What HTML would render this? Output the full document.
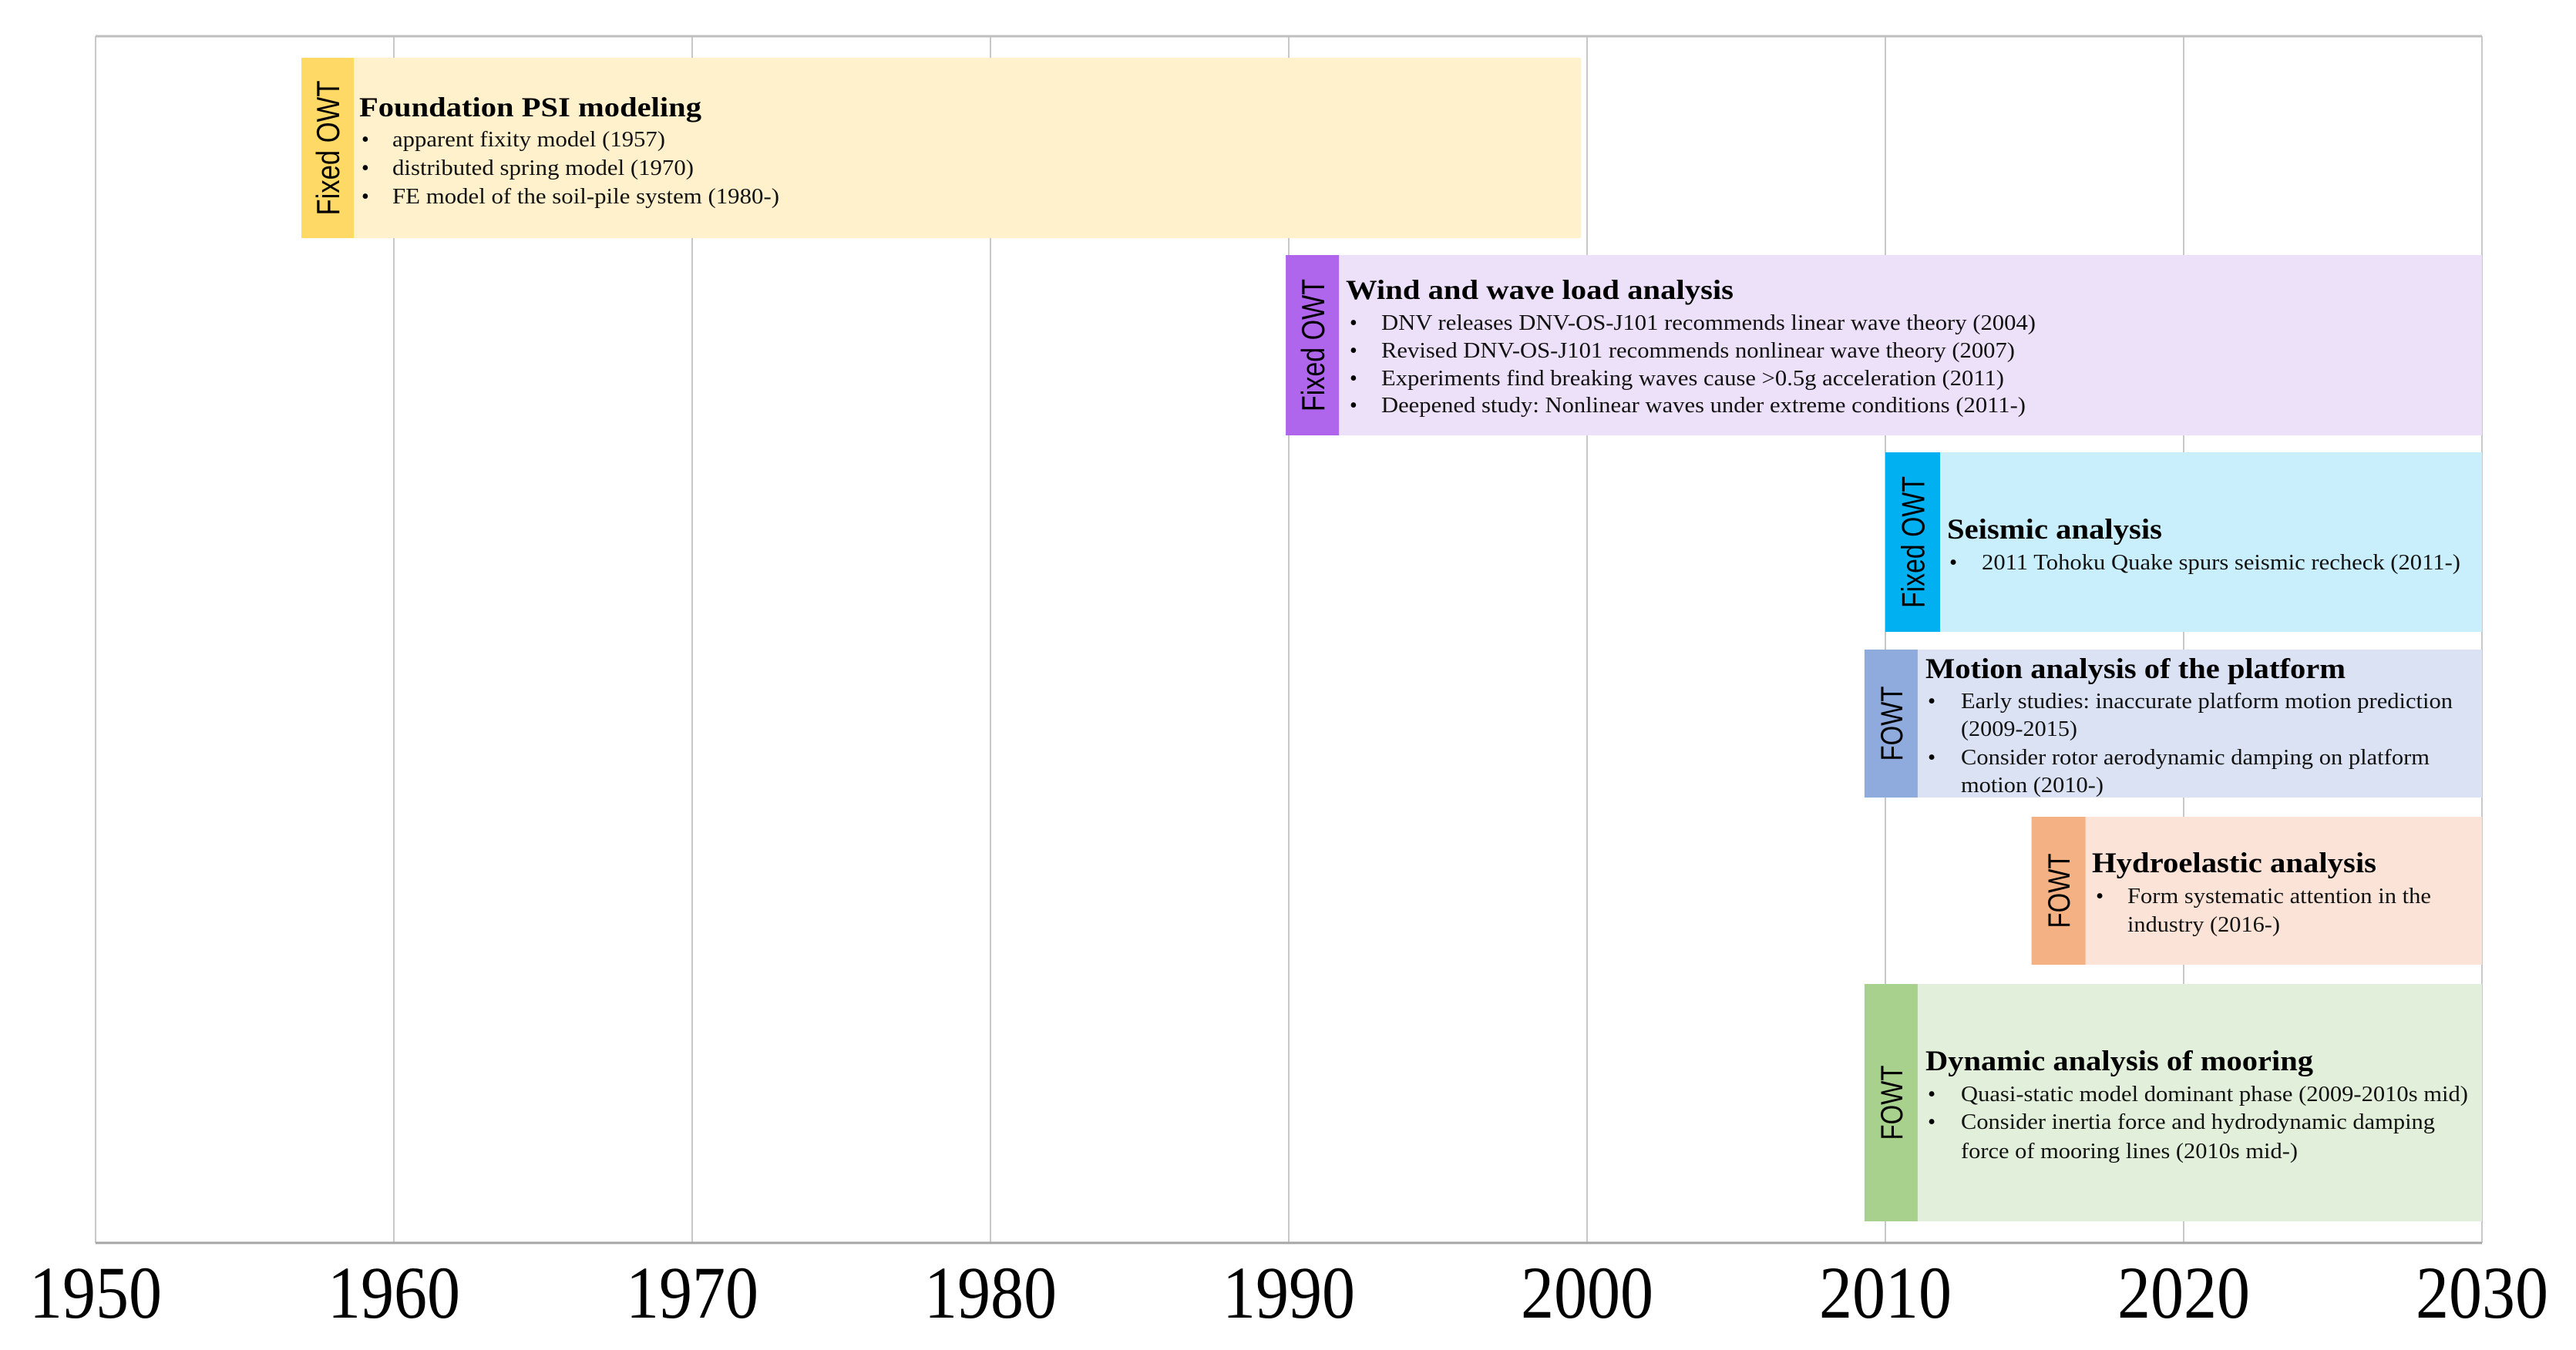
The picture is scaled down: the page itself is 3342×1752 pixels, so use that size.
<!DOCTYPE html>
<html><head><meta charset="utf-8"><style>
html,body{margin:0;padding:0;background:#fff;}
svg{display:block;}
</style></head><body>
<svg id="chart" width="3342" height="1752" viewBox="0 0 3342 1752" xmlns="http://www.w3.org/2000/svg"></svg>
<script>
const tickYears = [1950, 1960, 1970, 1980, 1990, 2000, 2010, 2020, 2030];
const tickLabels = ["1950","1960","1970","1980","1990","2000","2010","2020","2030"];
const startYears = [1956.9, 1989.9, 2010.0, 2009.3, 2014.9, 2009.3];
const endYears = [1999.8, 2030, 2030, 2030, 2030, 2030];
const categories = ["Fixed OWT","Fixed OWT","Fixed OWT","FOWT","FOWT","FOWT"];
const titles = ["Foundation PSI modeling","Wind and wave load analysis","Seismic analysis","Motion analysis of the platform","Hydroelastic analysis","Dynamic analysis of mooring"];

const NS = "http://www.w3.org/2000/svg";
const svg = document.getElementById('chart');
const X0 = 124, X1 = 3220, YT = 47, YB = 1613;
function xScale(y){ return X0 + (y - 1950) / 80 * (X1 - X0); }
function mk(tag, attrs, parent){ const e = document.createElementNS(NS, tag); for (const k in attrs) e.setAttribute(k, attrs[k]); (parent||svg).appendChild(e); return e; }

// layout (rows)
const rows = [
 {top:75,bot:309,stripeW:68,bg:"#fff1cc",sc:"#ffd966",labLen:175,labFs:42,
  title:{x:466,y:151,len:444,fs:36}, bulletX:469, textX:509, lines:[["apparent fixity model (1957)",190,354,1],["distributed spring model (1970)",227,391,1],["FE model of the soil-pile system (1980-)",264,502,1]], fs:28},
 {top:331,bot:565,stripeW:69,bg:"#ede1f9",sc:"#b066ec",labLen:172,labFs:42,
  title:{x:1746,y:388,len:503,fs:36}, bulletX:1751, textX:1792, lines:[["DNV releases DNV-OS-J101 recommends linear wave theory (2004)",428,849,1],["Revised DNV-OS-J101 recommends nonlinear wave theory (2007)",464,822,1],["Experiments find breaking waves cause >0.5g acceleration (2011)",500,808,1],["Deepened study: Nonlinear waves under extreme conditions (2011-)",535,836,1]], fs:28},
 {top:587,bot:820,stripeW:71,bg:"#c9effc",sc:"#00b0f0",labLen:171,labFs:42,
  title:{x:2526,y:699,len:279,fs:37}, bulletX:2529, textX:2571, lines:[["2011 Tohoku Quake spurs seismic recheck (2011-)",739,621,1]], fs:29},
 {top:843,bot:1035,stripeW:69,bg:"#dae2f3",sc:"#8faadc",labLen:97,labFs:40,
  title:{x:2498,y:880,len:545,fs:37}, bulletX:2501, textX:2544, lines:[["Early studies: inaccurate platform motion prediction",919,638,1],["(2009-2015)",955,151,0],["Consider rotor aerodynamic damping on platform",992,608,1],["motion (2010-)",1028,185,0]], fs:29},
 {top:1060,bot:1252,stripeW:70,bg:"#fbe4d7",sc:"#f4b183",labLen:97,labFs:40,
  title:{x:2714,y:1132,len:369,fs:37}, bulletX:2719, textX:2760, lines:[["Form systematic attention in the",1172,394,1],["industry (2016-)",1209,198,0]], fs:29},
 {top:1277,bot:1585,stripeW:69,bg:"#e2efda",sc:"#a9d18e",labLen:97,labFs:40,
  title:{x:2498,y:1389,len:503,fs:37}, bulletX:2501, textX:2544, lines:[["Quasi-static model dominant phase (2009-2010s mid)",1429,658,1],["Consider inertia force and hydrodynamic damping",1465,615,1],["force of mooring lines (2010s mid-)",1503,437,0]], fs:29}
];

// grid
tickYears.forEach((yr, i) => {
  const x = xScale(yr);
  const g = mk('line', {x1:x, x2:x, y1:YT, y2:YB, stroke:'#c8c8c8', 'stroke-width':2});
  
  
  const t = mk('text', {x:x, y:1710, 'text-anchor':'middle', 'font-family':'Liberation Serif, serif', 'font-size':96, textLength:172, lengthAdjust:'spacingAndGlyphs', fill:'#000'});
  t.textContent = tickLabels[i];
  
  
});
const topL = mk('line', {x1:X0, x2:X1, y1:YT, y2:YT, stroke:'#bfbfbf', 'stroke-width':3});


const botL = mk('line', {x1:X0, x2:X1, y1:YB, y2:YB, stroke:'#a6a6a6', 'stroke-width':3});



// boxes
rows.forEach((r, i) => {
  const x0 = xScale(startYears[i]), x1 = xScale(endYears[i]);
  const g = mk('g', {});
  
  
  const bg = mk('rect', {x:x0, y:r.top, width:x1-x0, height:r.bot-r.top, fill:r.bg}, g);
  
  
  const st = mk('rect', {x:x0, y:r.top, width:r.stripeW, height:r.bot-r.top, fill:r.sc}, g);
  
  
  const cx = x0 + r.stripeW/2 + r.labFs*0.36, cy = (r.top + r.bot)/2;
  const lab = mk('text', {x:cx, y:cy, transform:'rotate(-90 '+cx+' '+cy+')', 'text-anchor':'middle', 'font-family':'Liberation Sans, sans-serif', 'font-size':r.labFs, textLength:r.labLen, lengthAdjust:'spacingAndGlyphs', fill:'#000'}, g);
  lab.textContent = categories[i];
  
  
  const tt = mk('text', {x:r.title.x, y:r.title.y, 'font-family':'Liberation Serif, serif', 'font-weight':'bold', 'font-size':r.title.fs, textLength:r.title.len, lengthAdjust:'spacingAndGlyphs', fill:'#000'}, g);
  tt.textContent = titles[i];
  
  
  r.lines.forEach(l => {
    if (l[3]) {
      const b = mk('text', {x:r.bulletX, y:l[1], 'font-family':'Liberation Serif, serif', 'font-size':r.fs, fill:'#000'}, g);
      b.textContent = '•';
      
      
    }
    const t = mk('text', {x:r.textX, y:l[1], 'font-family':'Liberation Serif, serif', 'font-size':r.fs, textLength:l[2], lengthAdjust:'spacingAndGlyphs', fill:'#111'}, g);
    t.textContent = l[0];
    
    
  });
});
</script>
</body></html>
